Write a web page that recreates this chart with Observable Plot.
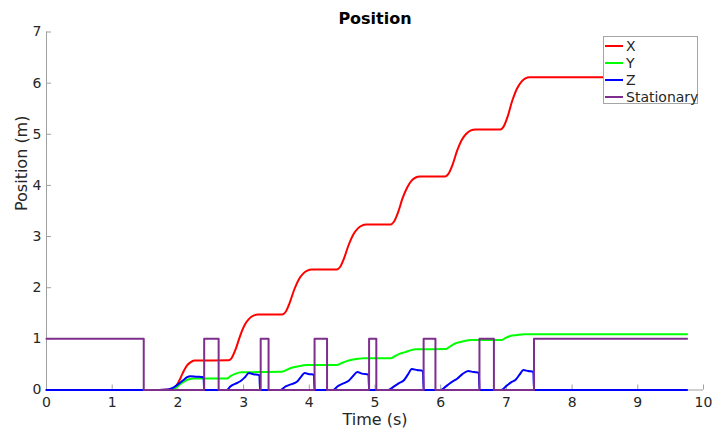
<!DOCTYPE html>
<html><head><meta charset="utf-8">
<script src="https://cdn.jsdelivr.net/npm/d3@7"></script>
<script src="https://cdn.jsdelivr.net/npm/@observablehq/plot@0.6"></script>
<style>
body{margin:0;background:#fff;}
#wrap{position:relative;width:714px;height:432px;font-family:"DejaVu Sans",sans-serif;}
#legend{position:absolute;left:603px;top:36px;width:95px;height:68px;border:1px solid #a6a6a6;background:#fff;font-size:14px;color:#262626;box-sizing:border-box;}
.item{position:absolute;left:1px;height:17px;display:flex;align-items:center;white-space:nowrap;}
.sw{width:18px;height:2px;margin-right:3px;}
</style></head>
<body><div id="wrap"><div id="chart"></div><div id="legend"></div></div>
<script>
const seriesNames = ["X", "Y", "Z", "Stationary"];
const seriesColors = ["#ff0000", "#00ff00", "#0000ff", "#7e2f8e"];
const xTicks = [0,1,2,3,4,5,6,7,8,9,10];
const yTicks = [0,1,2,3,4,5,6,7];

const xT = [0,1.5,1.9,1.96,2.02,2.07,2.14,2.19,2.25,2.77,2.815,2.88,2.95,3.02,3.09,3.15,3.22,3.59,3.635,3.70,3.77,3.84,3.91,3.97,4.04,4.42,4.465,4.53,4.60,4.67,4.74,4.80,4.87,5.24,5.285,5.35,5.42,5.49,5.56,5.62,5.68,6.07,6.115,6.18,6.25,6.32,6.39,6.46,6.53,6.91,6.955,7.02,7.09,7.16,7.23,7.29,7.35,9.75];
const xV = [0,0,0.01,0.05,0.18,0.32,0.48,0.54,0.577,0.58,0.62,0.80,1.07,1.28,1.40,1.455,1.476,1.478,1.52,1.70,1.96,2.16,2.28,2.335,2.356,2.358,2.40,2.58,2.84,3.04,3.16,3.215,3.236,3.238,3.285,3.47,3.75,3.96,4.10,4.155,4.175,4.177,4.22,4.40,4.68,4.89,5.01,5.075,5.094,5.096,5.145,5.35,5.66,5.89,6.03,6.095,6.117,6.117];

const yT = [0,1.9,1.95,2.02,2.1,2.17,2.23,2.75,2.8,2.88,2.97,3.2,3.58,3.65,3.72,3.8,3.9,3.97,4.42,4.48,4.56,4.65,4.75,4.82,5.24,5.3,5.38,5.46,5.55,5.62,6.08,6.14,6.22,6.3,6.38,6.45,6.93,6.99,7.07,7.16,7.27,9.75];
const yV = [0,0,0.02,0.1,0.17,0.21,0.225,0.225,0.27,0.32,0.345,0.35,0.355,0.39,0.43,0.455,0.48,0.49,0.49,0.52,0.56,0.59,0.61,0.62,0.62,0.66,0.71,0.74,0.78,0.795,0.80,0.85,0.91,0.94,0.965,0.98,0.98,1.02,1.06,1.075,1.09,1.09];

const zT = [0,1.6,1.85,1.92,2.01,2.08,2.14,2.19,2.28,2.39,2.4,2.74,2.8,2.87,2.95,3.02,3.08,3.15,3.24,3.25,3.56,3.64,3.72,3.82,3.87,3.93,4.0,4.07,4.08,4.36,4.44,4.52,4.6,4.67,4.73,4.8,4.9,4.91,5.2,5.28,5.36,5.44,5.5,5.56,5.64,5.73,5.74,6.0,6.08,6.16,6.25,6.33,6.42,6.5,6.58,6.59,6.92,7.0,7.07,7.14,7.2,7.26,7.33,7.41,7.42,9.75];
const zV = [0,0,0.01,0.04,0.12,0.19,0.25,0.27,0.26,0.25,0,0,0.07,0.12,0.17,0.25,0.33,0.31,0.29,0,0,0.07,0.11,0.17,0.25,0.33,0.31,0.30,0,0,0.08,0.13,0.18,0.28,0.35,0.32,0.30,0,0,0.06,0.13,0.19,0.30,0.41,0.39,0.37,0,0,0.07,0.15,0.22,0.31,0.37,0.35,0.34,0,0,0.08,0.15,0.20,0.30,0.39,0.37,0.355,0,0];

const sT = [0,1.48,2.4,2.62,3.26,3.38,4.08,4.27,4.91,5.02,5.74,5.92,6.59,6.81,7.42,9.75];
const sV = [1,0,1,0,1,0,1,0,1,0,1,0,1,0,1,1];

const mk = (T, V, s) => T.map((t, i) => ({t, v: V[i], s}));
const dX = mk(xT, xV, "X"), dY = mk(yT, yV, "Y"), dZ = mk(zT, zV, "Z"), dS = mk(sT, sV, "Stationary");

const axisColor = "#a0a0a0";
const plot = Plot.plot({
  width: 714, height: 432,
  marginLeft: 46, marginRight: 11, marginTop: 31.5, marginBottom: 42.5,
  style: {fontFamily: "DejaVu Sans", fontSize: "14px", color: "#262626", background: "#fff", overflow: "visible"},
  x: {domain: [0, 10]},
  y: {domain: [0, 7]},
  marks: [
    Plot.ruleY([0], {stroke: axisColor}),
    Plot.ruleX([0], {stroke: axisColor}),
    Plot.tickX(xTicks, {x: d => d, stroke: axisColor, insetTop: 353}),
    Plot.tickY(yTicks, {y: d => d, stroke: axisColor, insetRight: 652}),
    Plot.axisX({ticks: xTicks, tickSize: 0, tickPadding: 7, label: null, fontSize: 14, tickFormat: d => String(d)}),
    Plot.axisY({ticks: yTicks, tickSize: 0, tickPadding: 5, label: null, fontSize: 14, tickFormat: d => String(d)}),
    Plot.line(dX, {x: "t", y: "v", stroke: seriesColors[0], strokeWidth: 2, curve: "monotone-x"}),
    Plot.line(dY, {x: "t", y: "v", stroke: seriesColors[1], strokeWidth: 2, curve: "monotone-x"}),
    Plot.line(dZ, {x: "t", y: "v", stroke: seriesColors[2], strokeWidth: 2, curve: "monotone-x"}),
    Plot.line(dS, {x: "t", y: "v", stroke: seriesColors[3], strokeWidth: 2, curve: "step-after"}),
    Plot.text(["Position"], {frameAnchor: "top", lineAnchor: "middle", dy: -13.5, fontWeight: "bold", fontSize: 16, fill: "#000"}),
    Plot.text(["Time (s)"], {frameAnchor: "bottom", lineAnchor: "middle", dy: 30, fontSize: 16, fill: "#262626"}),
    Plot.text(["Position (m)"], {frameAnchor: "left", dx: -25, rotate: -90, fontSize: 16, fill: "#262626"})
  ]
});
document.getElementById("chart").appendChild(plot);

const leg = document.getElementById("legend");
seriesNames.forEach((n, i) => {
  const it = document.createElement("div");
  it.className = "item";
  it.style.top = (0 + i * 17) + "px";
  const sw = document.createElement("span");
  sw.className = "sw";
  sw.style.background = seriesColors[i];
  const tx = document.createElement("span");
  tx.textContent = n;
  it.appendChild(sw); it.appendChild(tx);
  leg.appendChild(it);
});
</script>
</body></html>
